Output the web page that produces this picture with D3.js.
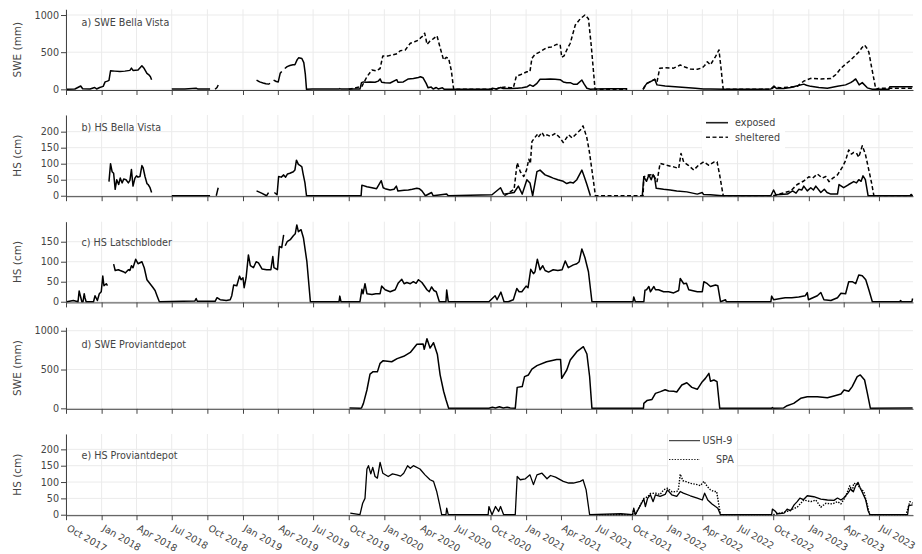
<!DOCTYPE html>
<html>
<head>
<meta charset="utf-8">
<title>snow panels</title>
<script src="https://cdn.jsdelivr.net/npm/d3@7"></script>
<style>
  body { margin: 0; background: #fff; }
  text { font-family: "DejaVu Sans", Verdana, sans-serif; fill: #444; }
</style>
</head>
<body>
<script>
// ---- data ----
var xStart = "2017-10-01", xEnd = "2023-09-27"
var sweTicks = [0, 500, 1000]
var hsTicks = [0, 50, 100, 150, 200]
var hsTicksC = [0, 50, 100, 150]

// a) SWE Bella Vista
var sweBVexp = [["2017-10-03",0],["2017-10-24",5],["2017-11-08",45],["2017-11-13",8],["2017-12-02",5],["2017-12-14",25],["2017-12-19",5],["2017-12-27",25],["2018-01-05",40],["2018-01-10",100],["2018-01-16",110],["2018-01-20",120],["2018-01-24",250],["2018-02-04",245],["2018-02-17",240],["2018-03-02",245],["2018-03-15",255],["2018-03-19",285],["2018-03-23",255],["2018-04-05",260],["2018-04-15",318],["2018-04-21",280],["2018-04-28",215],["2018-05-03",195],["2018-05-07",170],["2018-05-10",130],null,
["2018-07-01",3],["2018-08-04",3],["2018-09-02",15],["2018-09-07",3],["2018-10-08",3],null,
["2018-10-21",0],["2018-10-26",25],["2018-10-29",58],null,
["2019-02-05",125],["2019-02-13",100],["2019-02-22",85],["2019-03-01",75],["2019-03-08",70],["2019-03-12",80],null,
["2019-03-21",125],["2019-03-28",105],["2019-04-02",100],["2019-04-07",215],["2019-04-11",240],null,
["2019-04-19",280],["2019-04-25",305],["2019-05-02",320],["2019-05-10",330],["2019-05-15",330],["2019-05-21",400],["2019-05-25",425],["2019-06-02",415],["2019-06-07",360],["2019-06-11",200],["2019-06-14",0],["2019-06-29",3],["2019-09-06",3],["2019-09-08",10],["2019-09-11",3],["2019-10-30",3],
["2019-11-03",90],["2019-11-08",100],["2019-11-15",95],["2019-11-25",100],["2019-12-08",95],["2019-12-16",110],["2019-12-21",140],["2019-12-25",95],["2020-01-03",90],["2020-01-16",85],["2020-02-02",130],["2020-02-05",95],["2020-02-19",100],["2020-03-03",140],["2020-03-16",145],["2020-03-29",160],["2020-04-03",170],["2020-04-10",155],["2020-04-18",80],["2020-04-23",20],["2020-05-01",30],["2020-05-06",5],["2020-05-14",25],["2020-05-19",5],["2020-05-30",20],["2020-06-04",0],
["2020-10-01",0],["2020-10-06",15],["2020-10-16",5],["2020-10-27",25],["2020-11-03",10],["2020-11-21",10],["2020-12-09",15],["2020-12-22",20],["2021-01-04",35],["2021-01-11",60],["2021-01-19",40],["2021-01-29",80],["2021-02-06",135],["2021-02-19",135],["2021-03-04",140],["2021-03-17",135],["2021-03-30",130],["2021-04-07",100],["2021-04-16",90],["2021-04-25",90],["2021-05-03",70],["2021-05-13",70],["2021-05-25",125],["2021-05-31",70],["2021-06-07",15],["2021-06-16",0],["2021-06-29",3],["2021-08-07",8],["2021-09-19",8],null,
["2021-10-30",0],["2021-11-03",40],["2021-11-09",80],["2021-11-15",95],["2021-11-22",115],["2021-11-29",135],["2021-12-05",60],["2021-12-26",45],["2022-01-21",35],["2022-02-16",25],["2022-03-14",15],["2022-04-04",5],["2022-04-22",3],["2022-05-31",0],["2022-08-30",2],["2022-09-25",5],
["2022-10-03",45],["2022-10-10",10],["2022-10-28",10],["2022-11-15",25],["2022-11-30",45],["2022-12-19",70],["2022-12-26",55],["2023-01-06",40],["2023-01-27",25],["2023-02-18",15],["2023-03-16",40],["2023-04-06",60],["2023-04-19",90],["2023-04-25",110],["2023-05-02",140],["2023-05-11",60],["2023-05-19",90],["2023-06-01",20],["2023-06-14",0],["2023-07-27",0],["2023-07-29",35],["2023-09-26",35]]

var sweBVshel = [["2019-10-01",0],["2019-11-04",40],["2019-11-10",100],["2019-11-17",170],["2019-11-30",260],["2019-12-11",250],["2019-12-21",280],["2019-12-28",450],["2020-01-11",450],["2020-01-24",465],["2020-02-03",480],["2020-02-11",520],["2020-02-24",530],["2020-03-08",620],["2020-03-19",640],["2020-03-30",665],["2020-04-05",700],["2020-04-10",720],["2020-04-14",755],["2020-04-17",690],["2020-04-20",605],["2020-04-28",650],["2020-05-06",680],["2020-05-16",720],["2020-05-24",560],["2020-06-02",395],["2020-06-09",430],["2020-06-15",417],["2020-06-22",250],["2020-06-28",0],
["2020-10-01",0],["2020-10-16",5],["2020-10-27",25],["2020-11-09",30],["2020-11-21",20],["2020-11-29",20],["2020-12-07",180],["2020-12-17",195],["2021-01-03",237],["2021-01-11",240],["2021-01-16",417],["2021-01-24",470],["2021-02-06",505],["2021-02-23",560],["2021-03-07",570],["2021-03-21",605],["2021-03-30",600],["2021-04-03",430],["2021-04-09",450],["2021-04-16",530],["2021-04-25",620],["2021-05-08",865],["2021-05-21",950],["2021-06-02",1000],["2021-06-11",950],["2021-06-18",600],["2021-06-28",0],["2021-09-19",0],null,
["2021-10-30",0],["2021-11-09",80],["2021-11-22",115],["2021-11-29",135],["2021-12-05",100],["2021-12-12",283],["2021-12-26",290],["2022-01-17",285],["2022-02-03",327],["2022-02-15",300],["2022-03-01",273],["2022-03-19",270],["2022-04-01",290],["2022-04-07",320],["2022-04-14",371],["2022-04-22",330],["2022-05-05",440],["2022-05-14",530],["2022-05-19",300],["2022-05-25",0],
["2022-09-25",0],["2022-10-03",30],["2022-10-20",20],["2022-11-15",30],["2022-12-02",40],["2022-12-19",110],["2023-01-06",148],["2023-02-01",140],["2023-02-27",145],["2023-03-12",200],["2023-03-25",283],["2023-04-06",340],["2023-04-19",394],["2023-05-02",460],["2023-05-11",506],["2023-05-18",560],["2023-05-25",596],["2023-05-30",560],["2023-06-05",500],["2023-06-12",300],["2023-06-23",0],["2023-07-01",15],["2023-09-26",15]]

// b) HS Bella Vista
var hsBVexp = [["2018-01-20",44],["2018-01-24",100],["2018-01-28",75],["2018-02-01",70],["2018-02-05",20],["2018-02-09",50],["2018-02-14",35],["2018-02-18",55],["2018-02-23",40],["2018-02-27",52],["2018-03-05",50],["2018-03-11",40],["2018-03-15",48],["2018-03-19",82],["2018-03-23",30],["2018-03-28",55],["2018-04-01",62],["2018-04-05",58],["2018-04-10",60],["2018-04-15",94],["2018-04-18",88],["2018-04-23",60],["2018-04-28",38],["2018-05-01",35],["2018-05-06",25],["2018-05-10",10],null,
["2018-07-01",0],["2018-10-08",0],null,["2018-10-24",0],["2018-10-27",15],["2018-10-29",25],null,
["2019-02-05",15],["2019-02-18",8],["2019-03-03",0],["2019-03-08",10],null,
["2019-03-23",10],["2019-03-30",3],["2019-04-03",60],["2019-04-10",58],["2019-04-16",65],["2019-04-21",58],["2019-04-26",68],["2019-05-02",70],["2019-05-11",75],["2019-05-15",80],["2019-05-19",111],["2019-05-24",98],["2019-05-28",95],["2019-06-02",90],["2019-06-05",70],["2019-06-10",40],["2019-06-14",0],
["2019-11-02",0],["2019-11-04",33],["2019-11-17",28],["2019-11-30",25],["2019-12-12",22],["2019-12-24",47],["2019-12-29",25],["2020-01-03",22],["2020-01-16",18],["2020-01-26",20],["2020-02-01",30],["2020-02-05",15],["2020-02-21",17],["2020-03-03",18],["2020-03-13",20],["2020-03-25",23],["2020-03-31",22],["2020-04-07",15],["2020-04-16",0],["2020-05-02",10],["2020-05-06",0],["2020-06-10",5],["2020-06-14",0],
["2020-10-05",3],["2020-10-27",25],["2020-11-04",5],["2020-12-01",10],["2020-12-12",30],["2020-12-22",5],["2021-01-03",50],["2021-01-11",40],["2021-01-18",0],["2021-01-29",75],["2021-02-06",80],["2021-02-19",65],["2021-03-02",60],["2021-03-12",55],["2021-03-24",50],["2021-04-07",45],["2021-04-16",38],["2021-04-25",42],["2021-05-03",40],["2021-05-12",50],["2021-05-25",80],["2021-05-31",60],["2021-06-07",35],["2021-06-16",0],null,
["2021-10-28",0],["2021-11-01",59],["2021-11-08",45],["2021-11-14",65],["2021-11-20",50],["2021-11-25",66],["2021-11-29",55],["2021-12-03",23],["2021-12-22",20],["2022-01-08",18],["2022-01-25",15],["2022-02-20",12],["2022-03-19",5],["2022-04-01",10],["2022-04-04",4],["2022-04-22",3],["2022-05-22",0],
["2022-09-25",0],["2022-10-02",18],["2022-10-08",3],["2022-11-07",5],["2022-11-20",15],["2022-11-29",8],["2022-12-06",20],["2022-12-14",18],["2022-12-19",30],["2022-12-28",15],["2023-01-06",25],["2023-01-13",18],["2023-01-19",30],["2023-02-01",10],["2023-02-10",20],["2023-02-17",10],["2023-02-27",5],["2023-03-16",5],["2023-03-20",35],["2023-04-01",25],["2023-04-14",35],["2023-04-27",44],["2023-05-04",40],["2023-05-10",50],["2023-05-16",45],["2023-05-21",62],["2023-05-27",50],["2023-06-03",0],["2023-09-20",0],["2023-09-22",4],["2023-09-26",0]]

var hsBVshel = [["2020-11-06",0],["2020-12-01",20],["2020-12-09",103],["2020-12-17",75],["2020-12-26",60],["2021-01-02",80],["2021-01-08",114],["2021-01-12",100],["2021-01-16",169],["2021-01-29",190],["2021-02-01",182],["2021-02-11",198],["2021-02-17",185],["2021-02-24",190],["2021-03-05",185],["2021-03-18",195],["2021-03-30",180],["2021-04-07",166],["2021-04-15",180],["2021-04-21",190],["2021-04-30",180],["2021-05-12",195],["2021-05-21",205],["2021-05-28",218],["2021-06-02",200],["2021-06-07",180],["2021-06-13",140],["2021-06-20",80],["2021-06-29",0],
["2021-10-30",0],["2021-11-01",59],["2021-11-14",65],["2021-11-25",66],["2021-12-05",44],["2021-12-13",101],["2021-12-30",95],["2022-01-17",90],["2022-01-30",85],["2022-02-05",132],["2022-02-12",105],["2022-02-24",95],["2022-03-10",80],["2022-03-22",95],["2022-04-05",106],["2022-04-18",95],["2022-05-01",105],["2022-05-09",106],["2022-05-15",70],["2022-05-25",0],
["2022-10-01",0],["2022-11-15",15],["2022-12-02",35],["2022-12-19",46],["2023-01-01",59],["2023-01-11",55],["2023-01-23",68],["2023-02-05",55],["2023-02-14",60],["2023-02-22",44],["2023-03-04",55],["2023-03-16",65],["2023-03-29",90],["2023-04-06",110],["2023-04-14",143],["2023-04-21",130],["2023-04-27",135],["2023-05-04",133],["2023-05-10",120],["2023-05-19",156],["2023-05-27",130],["2023-06-05",80],["2023-06-12",40],["2023-06-18",0],["2023-09-26",0]]

// c) HS Latschbloder
var hsLatsch = [["2017-10-03",0],["2017-10-20",3],["2017-11-01",0],["2017-11-04",27],["2017-11-07",15],["2017-11-11",0],["2017-11-14",0],["2017-11-17",20],["2017-11-19",10],["2017-11-22",0],["2017-12-11",0],["2017-12-15",15],["2017-12-21",3],["2017-12-26",20],["2017-12-31",25],["2018-01-04",64],["2018-01-07",40],["2018-01-13",45],["2018-01-16",40],null,
["2018-02-01",94],["2018-02-05",78],["2018-02-13",80],["2018-02-18",78],["2018-02-26",75],["2018-03-03",72],["2018-03-11",80],["2018-03-15",78],["2018-03-19",90],["2018-03-23",85],["2018-03-30",106],["2018-04-05",95],["2018-04-15",100],["2018-04-21",85],["2018-04-28",55],["2018-05-06",45],["2018-05-13",36],["2018-05-19",28],["2018-05-24",15],["2018-05-30",0],["2018-08-30",2],["2018-09-02",8],["2018-09-05",1],["2018-10-21",1],["2018-10-26",10],["2018-11-03",5],["2018-11-19",3],["2018-11-29",5],
["2018-12-03",15],["2018-12-08",42],["2018-12-16",40],["2018-12-23",64],["2018-12-27",55],["2019-01-01",60],["2019-01-04",35],["2019-01-09",60],["2019-01-15",117],["2019-01-20",90],["2019-01-28",85],["2019-02-04",100],["2019-02-10",97],["2019-02-19",82],["2019-03-03",80],["2019-03-14",80],["2019-03-19",113],["2019-03-22",85],["2019-03-31",80],["2019-04-05",138],["2019-04-11",135],["2019-04-16",167],null,
["2019-04-20",140],["2019-04-25",150],["2019-05-03",155],["2019-05-11",165],["2019-05-16",170],["2019-05-20",192],["2019-05-24",175],["2019-05-31",180],["2019-06-06",160],["2019-06-15",100],["2019-06-24",0],["2019-09-06",0],["2019-09-08",14],["2019-09-11",0],["2019-10-30",0],
["2019-11-04",31],["2019-11-07",20],["2019-11-12",45],["2019-11-17",20],["2019-11-30",18],["2019-12-10",20],["2019-12-21",20],["2019-12-25",39],["2020-01-03",30],["2020-01-16",25],["2020-01-29",30],["2020-02-06",47],["2020-02-15",56],["2020-02-21",45],["2020-02-28",48],["2020-03-08",45],["2020-03-16",50],["2020-03-23",46],["2020-03-29",55],["2020-04-07",48],["2020-04-13",40],["2020-04-20",30],["2020-04-26",25],["2020-05-02",37],["2020-05-08",28],["2020-05-14",25],["2020-05-22",0],["2020-06-08",0],["2020-06-10",29],["2020-06-14",0],
["2020-09-27",0],["2020-10-13",15],["2020-10-18",5],["2020-10-28",24],["2020-11-05",0],["2020-11-16",0],["2020-11-29",5],["2020-12-08",33],["2020-12-14",25],["2020-12-21",25],["2021-01-01",39],["2021-01-06",35],["2021-01-13",81],["2021-01-20",70],["2021-01-24",75],["2021-01-30",106],["2021-02-06",80],["2021-02-13",90],["2021-02-19",78],["2021-02-28",74],["2021-03-12",80],["2021-03-24",78],["2021-04-04",80],["2021-04-12",102],["2021-04-20",85],["2021-05-03",92],["2021-05-12",95],["2021-05-18",100],["2021-05-25",132],["2021-06-02",110],["2021-06-11",75],["2021-06-20",0],
["2021-10-04",0],["2021-10-06",12],["2021-10-10",0],["2021-11-01",0],["2021-11-04",29],["2021-11-08",30],["2021-11-14",38],["2021-11-18",25],["2021-11-27",38],["2021-12-01",30],["2021-12-09",30],["2021-12-22",25],["2022-01-04",25],["2022-01-17",22],["2022-01-30",28],["2022-02-03",58],["2022-02-12",45],["2022-02-19",46],["2022-02-25",30],["2022-03-19",25],["2022-04-01",25],["2022-04-05",50],["2022-04-14",45],["2022-04-22",38],["2022-05-05",42],["2022-05-11",40],["2022-05-18",0],["2022-05-31",5],["2022-06-02",0],
["2022-09-25",0],["2022-09-27",14],["2022-10-02",5],["2022-10-20",8],["2022-11-01",10],["2022-11-18",10],["2022-12-06",12],["2022-12-23",15],["2022-12-28",23],["2022-12-31",5],["2023-01-23",15],["2023-02-01",23],["2023-02-09",5],["2023-02-27",3],["2023-03-16",10],["2023-03-25",21],["2023-04-06",20],["2023-04-14",50],["2023-04-23",50],["2023-05-02",45],["2023-05-10",67],["2023-05-19",65],["2023-05-28",55],["2023-06-05",30],["2023-06-14",0],["2023-08-24",0],["2023-08-26",3],["2023-08-28",0],["2023-09-24",0],["2023-09-26",8]]

// d) SWE Proviantdepot
var sweProv = [["2019-10-03",5],["2019-10-30",0],["2019-11-03",5],["2019-11-08",64],["2019-11-17",236],["2019-11-25",442],["2019-12-03",472],["2019-12-14",470],["2019-12-21",580],["2019-12-29",614],["2020-01-20",600],["2020-02-03",640],["2020-02-20",670],["2020-03-08",720],["2020-03-25",826],["2020-04-10",830],["2020-04-13",760],["2020-04-20",897],["2020-04-28",776],["2020-05-07",845],["2020-05-17",693],["2020-05-24",432],["2020-06-02",220],["2020-06-08",113],["2020-06-15",0],
["2020-09-27",0],["2020-10-06",15],["2020-10-14",5],["2020-10-24",20],["2020-11-03",5],["2020-11-13",15],["2020-11-21",5],["2020-12-04",0],["2020-12-09",270],["2020-12-22",280],["2020-12-28",408],["2021-01-07",430],["2021-01-16",506],["2021-01-29",550],["2021-02-23",600],["2021-03-21",630],["2021-03-31",630],["2021-04-03",386],["2021-04-16",494],["2021-04-25",622],["2021-05-12",730],["2021-05-29",794],["2021-06-07",700],["2021-06-14",410],["2021-06-20",0],
["2021-10-31",0],["2021-11-01",64],["2021-11-09",100],["2021-11-22",115],["2021-12-01",193],["2021-12-14",215],["2021-12-26",240],["2022-01-04",224],["2022-01-17",220],["2022-01-25",210],["2022-02-07",300],["2022-02-20",330],["2022-03-05",270],["2022-03-19",245],["2022-04-01",343],["2022-04-09",386],["2022-04-18",451],["2022-04-22",350],["2022-05-01",365],["2022-05-09",343],["2022-05-16",0],
["2022-09-27",0],["2022-09-29",10],["2022-10-02",0],["2022-10-28",5],["2022-11-06",34],["2022-11-23",64],["2022-12-11",129],["2022-12-28",150],["2023-01-23",150],["2023-02-18",137],["2023-03-07",160],["2023-03-25",185],["2023-04-02",236],["2023-04-14",220],["2023-04-23",280],["2023-05-06",408],["2023-05-14",430],["2023-05-25",365],["2023-06-01",200],["2023-06-09",0],["2023-09-26",5]]

// e) HS Proviantdepot
var hsProvUSH = [["2019-10-05",5],["2019-10-30",0],["2019-11-06",35],["2019-11-12",50],["2019-11-17",140],["2019-11-21",150],["2019-11-27",125],["2019-12-02",145],["2019-12-08",117],["2019-12-14",112],["2019-12-21",160],["2019-12-28",127],["2020-01-11",117],["2020-01-22",125],["2020-02-02",122],["2020-02-12",118],["2020-02-20",127],["2020-03-01",150],["2020-03-08",142],["2020-03-16",150],["2020-04-02",140],["2020-04-15",122],["2020-04-28",107],["2020-05-07",102],["2020-05-15",72],["2020-05-22",35],["2020-05-28",0],["2020-06-08",0],["2020-06-10",20],["2020-06-14",0],
["2020-09-25",0],["2020-09-27",25],["2020-10-05",0],["2020-10-14",25],["2020-10-22",10],["2020-10-27",25],["2020-11-04",0],["2020-12-04",0],["2020-12-09",117],["2020-12-17",107],["2020-12-30",110],["2021-01-11",122],["2021-01-20",92],["2021-01-29",122],["2021-02-11",127],["2021-02-24",110],["2021-03-05",120],["2021-03-18",115],["2021-04-07",102],["2021-04-21",97],["2021-05-03",97],["2021-05-21",102],["2021-05-28",107],["2021-06-05",76],["2021-06-14",0],
["2021-09-03",3],["2021-10-03",0],["2021-10-06",20],["2021-10-10",0],["2021-11-01",48],["2021-11-05",25],["2021-11-11",51],["2021-11-18",61],["2021-11-25",40],["2021-12-01",61],["2021-12-13",56],["2021-12-26",62],["2022-01-01",76],["2022-01-12",61],["2022-01-25",56],["2022-02-03",71],["2022-02-11",66],["2022-03-01",58],["2022-03-19",51],["2022-04-01",45],["2022-04-07",66],["2022-04-15",45],["2022-04-26",33],["2022-05-05",25],["2022-05-11",20],["2022-05-18",0],
["2022-09-27",0],["2022-09-29",17],["2022-10-05",12],["2022-10-12",3],["2022-10-29",5],["2022-11-06",17],["2022-11-15",12],["2022-11-24",30],["2022-12-02",40],["2022-12-09",51],["2022-12-18",46],["2022-12-28",58],["2023-01-14",55],["2023-02-01",48],["2023-02-18",45],["2023-03-07",44],["2023-03-16",51],["2023-03-25",45],["2023-04-01",51],["2023-04-12",66],["2023-04-19",79],["2023-04-26",70],["2023-05-02",89],["2023-05-08",99],["2023-05-13",84],["2023-05-19",69],["2023-05-28",45],["2023-06-03",12],["2023-06-08",0],["2023-09-13",0],["2023-09-16",28],["2023-09-26",30]]

var hsProvSPA = [["2021-07-01",0],["2021-10-03",0],["2021-10-05",15],["2021-10-10",0],["2021-11-01",50],["2021-11-11",55],["2021-11-18",65],["2021-12-01",66],["2021-12-13",62],["2021-12-22",76],["2022-01-01",81],["2022-01-13",70],["2022-01-25",71],["2022-01-29",75],["2022-02-03",124],["2022-02-10",104],["2022-02-16",102],["2022-03-01",96],["2022-03-19",92],["2022-03-27",89],["2022-04-05",102],["2022-04-14",86],["2022-04-22",76],["2022-05-01",71],["2022-05-08",71],["2022-05-14",28],["2022-05-18",0],
["2022-10-01",0],["2022-11-06",10],["2022-12-02",23],["2022-12-19",45],["2023-01-06",40],["2023-01-19",45],["2023-02-01",23],["2023-02-14",35],["2023-03-03",33],["2023-03-16",40],["2023-03-25",33],["2023-04-06",56],["2023-04-17",89],["2023-04-23",70],["2023-04-27",96],["2023-05-06",94],["2023-05-14",80],["2023-05-23",71],["2023-06-01",30],["2023-06-07",0],["2023-09-09",0],["2023-09-19",40],["2023-09-26",35]]

// ---- drawing ----
var W = 922, H = 554
var svg = d3.select("body").append("svg").attr("width", W).attr("height", H)
var parse = d3.timeParse("%Y-%m-%d")
function prep(arr) {
  return arr.map(function(d) { return d ? [parse(d[0]), d[1]] : null })
}

var x = d3.scaleTime().domain([parse(xStart), parse(xEnd)]).range([66, 913])
var xTicks = x.ticks(d3.timeMonth.every(3))

var DASH = "4,2.5", DOT = "1.4,1.4"

var panels = [
  {label: "a) SWE Bella Vista", title: "SWE (mm)", top: 9.3, bottom: 90, dom: [-9, 1077], ticks: sweTicks, ly: 23,
   lines: [{data: sweBVexp, dash: null, w: 1.5}, {data: sweBVshel, dash: DASH, w: 1.5}]},
  {label: "b) HS Bella Vista", title: "HS (cm)", top: 115, bottom: 196.2, dom: [-1.5, 252], ticks: hsTicks, ly: 127.3,
   lines: [{data: hsBVexp, dash: null, w: 1.5}, {data: hsBVshel, dash: DASH, w: 1.5}]},
  {label: "c) HS Latschbloder", title: "HS (cm)", top: 221.7, bottom: 302.4, dom: [-1.7, 200], ticks: hsTicksC, ly: 242.3,
   lines: [{data: hsLatsch, dash: null, w: 1.5}]},
  {label: "d) SWE Proviantdepot", title: "SWE (mm)", top: 327.3, bottom: 408.8, dom: [-6, 1044], ticks: sweTicks, ly: 345,
   lines: [{data: sweProv, dash: null, w: 1.5}]},
  {label: "e) HS Proviantdepot", title: "HS (cm)", top: 434, bottom: 515.2, dom: [-1.5, 247], ticks: hsTicks, ly: 456,
   lines: [{data: hsProvUSH, dash: null, w: 1.3}, {data: hsProvSPA, dash: DOT, w: 1.4}]}
]

panels.forEach(function(p, i) {
  var y = d3.scaleLinear().domain(p.dom).range([p.bottom, p.top])
  var g = svg.append("g")

  // grid
  g.selectAll(".vg").data(xTicks).enter().append("line")
    .attr("x1", function(d) { return x(d) }).attr("x2", function(d) { return x(d) })
    .attr("y1", p.top).attr("y2", p.bottom)
    .attr("stroke", "#ebebeb").attr("stroke-width", 1)
  g.selectAll(".hg").data(p.ticks).enter().append("line")
    .attr("x1", 66).attr("x2", 913)
    .attr("y1", function(d) { return y(d) }).attr("y2", function(d) { return y(d) })
    .attr("stroke", "#ebebeb").attr("stroke-width", 1)

  // legend backgrounds (drawn above the grid, below the data)
  if (i == 1) g.append("rect").attr("x", 702).attr("y", p.top).attr("width", 83).attr("height", 35).attr("fill", "#fff")
  if (i == 4) g.append("rect").attr("x", 668.5).attr("y", p.top).attr("width", 68).attr("height", 33).attr("fill", "#fff")

  // data lines
  var line = d3.line()
    .defined(function(d) { return d !== null })
    .x(function(d) { return x(d[0]) })
    .y(function(d) { return y(d[1]) })
  p.lines.forEach(function(s) {
    g.append("path").datum(prep(s.data))
      .attr("d", line)
      .attr("fill", "none")
      .attr("stroke", "#000")
      .attr("stroke-width", s.w)
      .attr("stroke-linejoin", "round")
      .attr("stroke-dasharray", s.dash)
  })

  // axes
  var xa = g.append("g").attr("transform", "translate(0," + p.bottom + ")")
    .call(d3.axisBottom(x).tickValues(xTicks).tickSize(5).tickSizeOuter(0)
      .tickFormat(i == 4 ? d3.timeFormat("%b %Y") : ""))
  var ya = g.append("g").attr("transform", "translate(66,0)")
    .call(d3.axisLeft(y).tickValues(p.ticks).tickSize(5).tickSizeOuter(0).tickPadding(2)
      .tickFormat(d3.format("d")))
  ;[xa, ya].forEach(function(a) {
    a.select(".domain").attr("stroke", "#444")
    a.selectAll(".tick line").attr("stroke", "#444")
    a.selectAll("text").style("font-size", "9.6px").attr("fill", "#444")
  })
  if (i == 4) {
    xa.selectAll("text")
      .attr("text-anchor", "start")
      .attr("y", 0).attr("dy", "0.71em")
      .attr("transform", "translate(3,9) rotate(30)")
  }

  // axis title
  g.append("text")
    .attr("transform", "translate(21," + ((p.top + p.bottom) / 2) + ") rotate(-90)")
    .attr("text-anchor", "middle")
    .style("font-size", "10.5px")
    .text(p.title)

  // panel label
  g.append("text").attr("x", 81.5).attr("y", p.ly).attr("dy", "0.35em")
    .style("font-size", "9.6px").text(p.label)
})

// legends
function legendItem(x0, x1, yy, tx, dash, w, label) {
  svg.append("line").attr("x1", x0).attr("x2", x1).attr("y1", yy).attr("y2", yy)
    .attr("stroke", "#222").attr("stroke-width", w).attr("stroke-dasharray", dash)
  svg.append("text").attr("x", tx).attr("y", yy).attr("dy", "0.35em")
    .style("font-size", "9.6px").text(label)
}
legendItem(706, 728, 122.7, 735, null, 1.6, "exposed")
legendItem(706, 728, 137.3, 735, DASH, 1.4, "sheltered")
legendItem(669, 700, 440.7, 702.5, null, 1, "USH-9")
legendItem(669, 700, 459.5, 716, DOT, 1.2, "SPA")
</script>
</body>
</html>
